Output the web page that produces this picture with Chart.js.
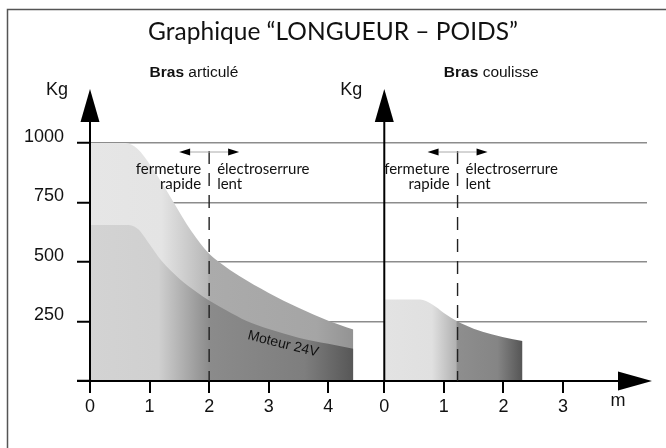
<!DOCTYPE html>
<html lang="fr">
<head>
<meta charset="utf-8">
<title>Graphique LONGUEUR – POIDS</title>
<script src="https://cdn.jsdelivr.net/npm/chart.js@4.4.1/dist/chart.umd.min.js"></script>
<style>
  html, body { margin: 0; padding: 0; background: #fff; }
  #wrap { position: relative; width: 666px; height: 448px; }
</style>
</head>
<body>
<div id="wrap"><canvas id="chart" width="666" height="448"></canvas></div>
<script>
// Graphique longueur / poids des bras (articulé et coulisse)

const TITLE = "Graphique \u201cLONGUEUR \u2013 POIDS\u201d";
const PANEL_NAMES = ["articul\u00e9", "coulisse"];   // after bold "Bras"
const Y_TICKS = [0, 250, 500, 750, 1000];
const X_LABELS_ARTICULE = ["0", "1", "2", "3", "4"];
const X_LABELS_COULISSE = ["0", "1", "2", "3"];
const COULISSE_ORIGIN = 4.94;   // where the 2nd graph's 0 sits on the shared axis

// bras articulé, limite max
const ARTICULE_X = [0, 0.6, 0.8, 1.0, 1.2, 1.4, 1.7, 2.0, 2.2, 2.5, 3.0, 3.5, 4.0, 4.42];
const ARTICULE_MAX = [1000, 1000, 975, 912, 835, 752, 630, 535, 494, 442, 370, 308, 253, 216];
// bras articulé, moteur 24V
const ARTICULE_24V_X = [0, 0.6, 0.8, 1.0, 1.2, 1.5, 1.8, 2.0, 2.3, 2.63, 3.0, 3.5, 4.0, 4.42];
const ARTICULE_24V = [655, 655, 640, 575, 505, 430, 372, 338, 295, 252, 218, 182, 156, 136];
// bras coulisse
const COULISSE_X = [0, 0.6, 0.8, 1.0, 1.23, 1.5, 1.8, 2.0, 2.32];
const COULISSE_MAX = [342, 342, 322, 286, 250, 220, 196, 184, 168];

// limite fermeture rapide / électroserrure
const SWITCH_X = [2, 1.23];

const TICK_VALUES = X_LABELS_ARTICULE.map((_, i) => i)
  .concat(X_LABELS_COULISSE.map((_, i) => COULISSE_ORIGIN + i));
const TICK_LABELS = X_LABELS_ARTICULE.concat(X_LABELS_COULISSE);

const SANS = '"Liberation Sans", Arial, Helvetica, sans-serif';
const ROUND = 'Lato, "Open Sans", sans-serif';

// horizontal gray shading (x value, colour)
const SHADE_MAX = [[0, "#e6e6e6"], [1.2, "#e4e4e4"], [1.97, "#b8b8b8"], [2.0, "#ababab"], [3.8, "#a5a5a5"], [4.42, "#939393"]];
const SHADE_24V = [[0, "#d3d3d3"], [1.15, "#d0d0d0"], [1.97, "#8e8e8e"], [2.0, "#8b8b8b"], [3.6, "#7e7e7e"], [4.42, "#575757"]];
const SHADE_COULISSE = [[0, "#e3e3e3"], [0.8, "#e0e0e0"], [1.2, "#b2b2b2"], [1.23, "#8e8e8e"], [1.9, "#858585"], [2.32, "#555555"]]
  .map(([v, c]) => [v + COULISSE_ORIGIN, c]);

function shade(chart, stops) {
  const { ctx, chartArea, scales } = chart;
  if (!chartArea) return stops[0][1];
  const first = stops[0][0], last = stops[stops.length - 1][0];
  const g = ctx.createLinearGradient(scales.x.getPixelForValue(first), 0, scales.x.getPixelForValue(last), 0);
  stops.forEach(([v, c]) => g.addColorStop((v - first) / (last - first), c));
  return g;
}

function points(xs, ys, shift = 0) {
  return xs.map((x, i) => ({ x: x + shift, y: ys[i] }));
}

function tri(c, pts) {
  c.beginPath();
  c.moveTo(pts[0][0], pts[0][1]);
  c.lineTo(pts[1][0], pts[1][1]);
  c.lineTo(pts[2][0], pts[2][1]);
  c.closePath();
  c.fill();
}

const decor = {
  id: "decor",
  beforeDraw(chart) {
    const c = chart.ctx;
    c.save();
    c.strokeStyle = "#555";
    c.lineWidth = 1.5;
    c.beginPath();
    c.moveTo(7.5, 448);
    c.lineTo(7.5, 9.5);
    c.lineTo(666, 9.5);
    c.stroke();
    c.restore();
  },
  afterDraw(chart) {
    const { ctx: c, chartArea, scales: { x, y } } = chart;
    const y0 = y.getPixelForValue(0);
    const yTop = y.getPixelForValue(1000);
    c.save();
    c.fillStyle = "#000";
    c.strokeStyle = "#000";

    // vertical axes + arrows + "Kg"
    [0, COULISSE_ORIGIN].forEach(v => {
      const px = x.getPixelForValue(v);
      c.lineWidth = 2;
      c.beginPath();
      c.moveTo(px, y0);
      c.lineTo(px, yTop - 30);
      c.stroke();
      tri(c, [[px, yTop - 54], [px - 9.5, yTop - 21], [px + 9.5, yTop - 21]]);
      c.font = "18px " + SANS;
      c.textAlign = "right";
      c.textBaseline = "middle";
      c.fillStyle = "#111";
      c.fillText("Kg", px - 22, yTop - 53);
      c.fillStyle = "#000";
    });

    // horizontal axis: start left of 0 and arrow at the end
    const x0 = x.getPixelForValue(0);
    c.lineWidth = 2;
    c.beginPath();
    c.moveTo(x0 - 13, y0);
    c.lineTo(chartArea.right - 20, y0);
    c.stroke();
    tri(c, [[chartArea.right + 5, y0], [chartArea.right - 29, y0 - 9.5], [chartArea.right - 29, y0 + 9.5]]);
    c.font = "18px " + SANS;
    c.textAlign = "center";
    c.textBaseline = "middle";
    c.fillStyle = "#111";
    c.fillText("m", chartArea.right - 29, y0 + 20);

    // panel names
    [0, COULISSE_ORIGIN].forEach((v, i) => {
      const px = x.getPixelForValue(v + 1);
      const py = yTop - 70;
      c.textAlign = "left";
      c.font = "bold 15.5px " + SANS;
      c.fillText("Bras", px, py);
      const w = c.measureText("Bras ").width;
      c.font = "15.5px " + SANS;
      c.fillText(PANEL_NAMES[i], px + w, py);
    });

    // dashed limit lines with arrows and notes
    SWITCH_X.forEach((v, i) => {
      const px = x.getPixelForValue(v + (i ? COULISSE_ORIGIN : 0));
      c.strokeStyle = "#222";
      c.lineWidth = 1.4;
      c.setLineDash([13, 9]);
      c.beginPath();
      c.moveTo(px, yTop + 8);
      c.lineTo(px, y0);
      c.stroke();
      c.setLineDash([]);

      const ay = yTop + 9;
      c.strokeStyle = "#aaa";
      c.lineWidth = 1;
      c.beginPath();
      c.moveTo(px - 19, ay);
      c.lineTo(px + 19, ay);
      c.stroke();
      c.fillStyle = "#000";
      tri(c, [[px - 30, ay], [px - 19, ay - 3.5], [px - 19, ay + 3.5]]);
      tri(c, [[px + 30, ay], [px + 19, ay - 3.5], [px + 19, ay + 3.5]]);

      c.fillStyle = "#111";
      c.font = "15px " + ROUND;
      c.textBaseline = "alphabetic";
      c.textAlign = "right";
      c.fillText("fermeture", px - 8, yTop + 30.5);
      c.fillText("rapide", px - 8, yTop + 46);
      c.textAlign = "left";
      c.fillText("\u00e9lectroserrure", px + 8, yTop + 30.5);
      c.fillText("lent", px + 8, yTop + 46);
    });

    // Moteur 24V
    c.save();
    c.translate(x.getPixelForValue(3.24), y.getPixelForValue(155));
    c.rotate(14 * Math.PI / 180);
    c.font = "14px " + SANS;
    c.textAlign = "center";
    c.textBaseline = "middle";
    c.fillStyle = "#111";
    c.fillText("Moteur 24V", 0, 0);
    c.restore();

    c.restore();
  },
};

const noLine = "rgba(0,0,0,0)";

new Chart(document.getElementById("chart"), {
  type: "line",
  data: {
    datasets: [
      {
        label: "Moteur 24V",
        data: points(ARTICULE_24V_X, ARTICULE_24V),
        order: 1,
        fill: "origin",
        borderColor: noLine,
        backgroundColor: ctx => shade(ctx.chart, SHADE_24V),
      },
      {
        label: "Bras articul\u00e9",
        data: points(ARTICULE_X, ARTICULE_MAX),
        order: 2,
        fill: "origin",
        borderColor: noLine,
        backgroundColor: ctx => shade(ctx.chart, SHADE_MAX),
      },
      {
        label: "Bras coulisse",
        data: points(COULISSE_X, COULISSE_MAX, COULISSE_ORIGIN),
        order: 2,
        fill: "origin",
        borderColor: noLine,
        backgroundColor: ctx => shade(ctx.chart, SHADE_COULISSE),
      },
    ],
  },
  options: {
    responsive: false,
    animation: false,
    devicePixelRatio: 1,
    layout: { padding: 0 },
    elements: {
      point: { radius: 0 },
      line: { borderWidth: 1, cubicInterpolationMode: "monotone" },
    },
    plugins: {
      legend: { display: false },
      tooltip: { enabled: false },
      title: {
        display: true,
        text: TITLE,
        color: "#111",
        font: { family: ROUND, size: 24.5, weight: "normal", lineHeight: 1.2 },
        padding: { top: 17, bottom: 96.6 },
      },
    },
    scales: {
      x: {
        type: "linear",
        min: 0,
        max: 9.35,
        z: 1,
        afterBuildTicks: s => { s.ticks = TICK_VALUES.map(v => ({ value: v })); },
        afterFit: s => { s.height = 67; },
        grid: { drawOnChartArea: false, drawTicks: true, tickLength: 12, color: "#000", lineWidth: 2 },
        border: { display: true, color: "#000", width: 2 },
        ticks: {
          autoSkip: false,
          maxRotation: 0,
          padding: 3,
          color: "#111",
          font: { family: SANS, size: 18 },
          callback: (v, i) => TICK_LABELS[i],
        },
      },
      y: {
        min: 0,
        max: 1000,
        z: 1,
        afterBuildTicks: s => { s.ticks = Y_TICKS.map(v => ({ value: v })); },
        afterFit: s => { s.width = 90; },
        grid: {
          color: ctx => (ctx.tick && ctx.tick.value === 0 ? "#000" : "#8c8c8c"),
          lineWidth: 1.5,
          drawTicks: true,
          tickLength: 13,
          tickColor: "#000",
          tickWidth: 2,
        },
        border: { display: true, color: "#000", width: 2 },
        ticks: {
          padding: 13,
          labelOffset: -6,
          color: "#111",
          font: { family: SANS, size: 18 },
          callback: v => (v === 0 ? "" : String(v)),
        },
      },
      // empty right margin so the title stays centred on the page
      margin: {
        type: "linear",
        position: "right",
        display: true,
        grid: { display: false },
        border: { display: false },
        ticks: { display: false },
        afterFit: s => { s.width = 19; },
      },
    },
  },
  plugins: [decor],
});
</script>
</body>
</html>
